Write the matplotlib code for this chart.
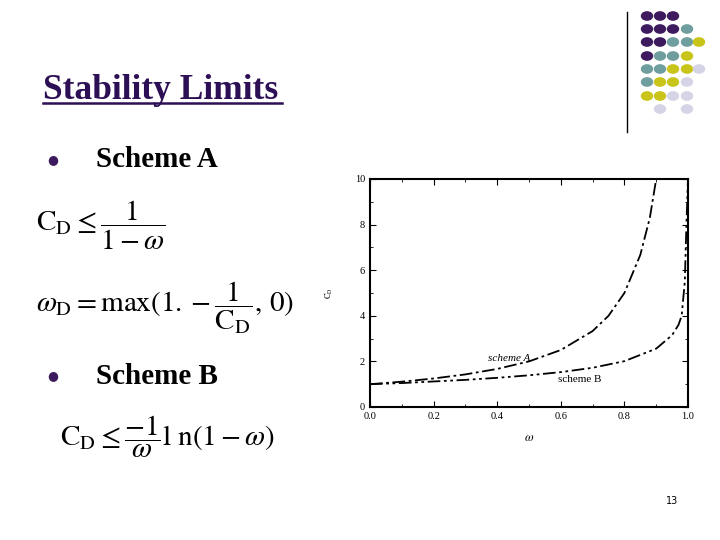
import matplotlib
matplotlib.use("Agg")
import matplotlib.pyplot as plt
from matplotlib.patches import Circle
from matplotlib.lines import Line2D

plt.rcParams['mathtext.fontset'] = 'stix'
plt.rcParams['font.family'] = ['Liberation Serif', 'DejaVu Serif']

omega_a = [0.0, 0.1, 0.2, 0.3, 0.4, 0.5, 0.6, 0.7, 0.75, 0.8, 0.85, 0.88, 0.9]
cd_a = [1.0, 1.11, 1.25, 1.43, 1.67, 2.0, 2.5, 3.33, 4.0, 5.0, 6.67, 8.3, 10.0]
omega_b = [0.0, 0.1, 0.2, 0.3, 0.4, 0.5, 0.6, 0.7, 0.8, 0.9, 0.95, 0.97, 0.98, 0.99, 0.995, 1.0]
cd_b = [1.0, 1.05, 1.12, 1.19, 1.28, 1.39, 1.53, 1.72, 2.01, 2.56, 3.15, 3.6, 4.0, 5.5, 8.0, 10.0]
xticks = [0.0, 0.2, 0.4, 0.6, 0.8, 1.0]
yticks = [0, 2, 4, 6, 8, 10]

W, H = 720, 540
fig = plt.figure(figsize=(7.2, 5.4), dpi=100)
fig.patch.set_facecolor('white')

def fx(x): return x / W
def fy(y): return 1 - y / H

# decorative dots
P, T, Y, L = '#3d1a5e', '#6f9e9e', '#c8c41a', '#d4d4e6'
grid = [[P, P, P], [P, P, P, T], [P, P, T, T, Y], [P, T, T, Y], [T, T, Y, Y, L],
        [T, Y, Y, L], [Y, Y, L, L], [None, L, None, L]]
cols = [647, 660, 673, 687, 699]
rows = [16, 29, 42, 56, 69, 82, 96, 109]
for r, row in enumerate(grid):
    for c, col in enumerate(row):
        if col:
            fig.patches.append(Circle((fx(cols[c]), fy(rows[r])), 5.5 / W, color=col,
                                      transform=fig.transFigure))
fig.lines.append(Line2D([fx(627), fx(627)], [fy(12), fy(132)], color='black', lw=1,
                        transform=fig.transFigure))

fig.text(fx(43), fy(99), 'Stability Limits', fontsize=25.5, fontweight='bold', color='#2d0f55',
         va='baseline', ha='left')
fig.lines.append(Line2D([fx(43), fx(282)], [fy(103), fy(103)], color='#2d0f55', lw=1.8,
                        transform=fig.transFigure))
fig.text(fx(53), fy(160), '\u25cf', fontsize=9, color='#3d1a5e', ha='center', va='center',
         family='DejaVu Sans')
fig.text(fx(96), fy(167), 'Scheme A', fontsize=21, va='baseline', fontweight='bold')
fig.text(fx(53), fy(376), '\u25cf', fontsize=9, color='#3d1a5e', ha='center', va='center',
         family='DejaVu Sans')
fig.text(fx(96), fy(384), 'Scheme B', fontsize=21, va='baseline', fontweight='bold')

fig.text(fx(36), fy(225), r'$\mathrm{C_D}\leq\dfrac{1}{1-\omega}$', fontsize=21, va='center')
fig.text(fx(36), fy(308), r'$\omega_\mathrm{D}=\mathrm{max}(1.-\dfrac{1}{\mathrm{C_D}},\,0)$',
         fontsize=21, va='center')
fig.text(fx(60), fy(437), r'$\mathrm{C_D}\leq\dfrac{-1}{\omega}\mathrm{l\ n}(1-\omega)$',
         fontsize=21, va='center')
fig.text(fx(672), fy(501), '13', fontsize=7, family='DejaVu Sans', ha='center', va='center')

ax = fig.add_axes([370 / W, 1 - 407 / H, (688 - 370) / W, (407 - 179) / H])
ax.plot(omega_a, cd_a, color='black', lw=1.3, linestyle=(0, (7, 2, 1.5, 2)))
ax.plot(omega_b, cd_b, color='black', lw=1.3, linestyle=(0, (7, 2, 1.5, 2, 1.5, 2)))
ax.set_xlim(0, 1)
ax.set_ylim(0, 10)
ax.set_xticks(xticks)
ax.set_xticklabels([f'{v:.1f}' for v in xticks])
ax.set_yticks(yticks)
ax.set_xticks([0.1, 0.3, 0.5, 0.7, 0.9], minor=True)
ax.set_yticks([1, 3, 5, 7, 9], minor=True)
ax.tick_params(direction='in', top=True, right=True, which='both', labelsize=7.5)
ax.tick_params(which='major', length=4)
ax.tick_params(which='minor', length=2)
for s in ax.spines.values():
    s.set_linewidth(1.5)
ax.set_xlabel(r'$\omega$', fontsize=9, labelpad=8)
ax.set_ylabel(r'$\mathrm{C_D}$', fontsize=6, labelpad=14)
ax.text(0.37, 2.0, 'scheme A', fontsize=8, style='italic')
ax.text(0.59, 1.1, 'scheme B', fontsize=8)

fig.savefig('out.png', dpi=100)
